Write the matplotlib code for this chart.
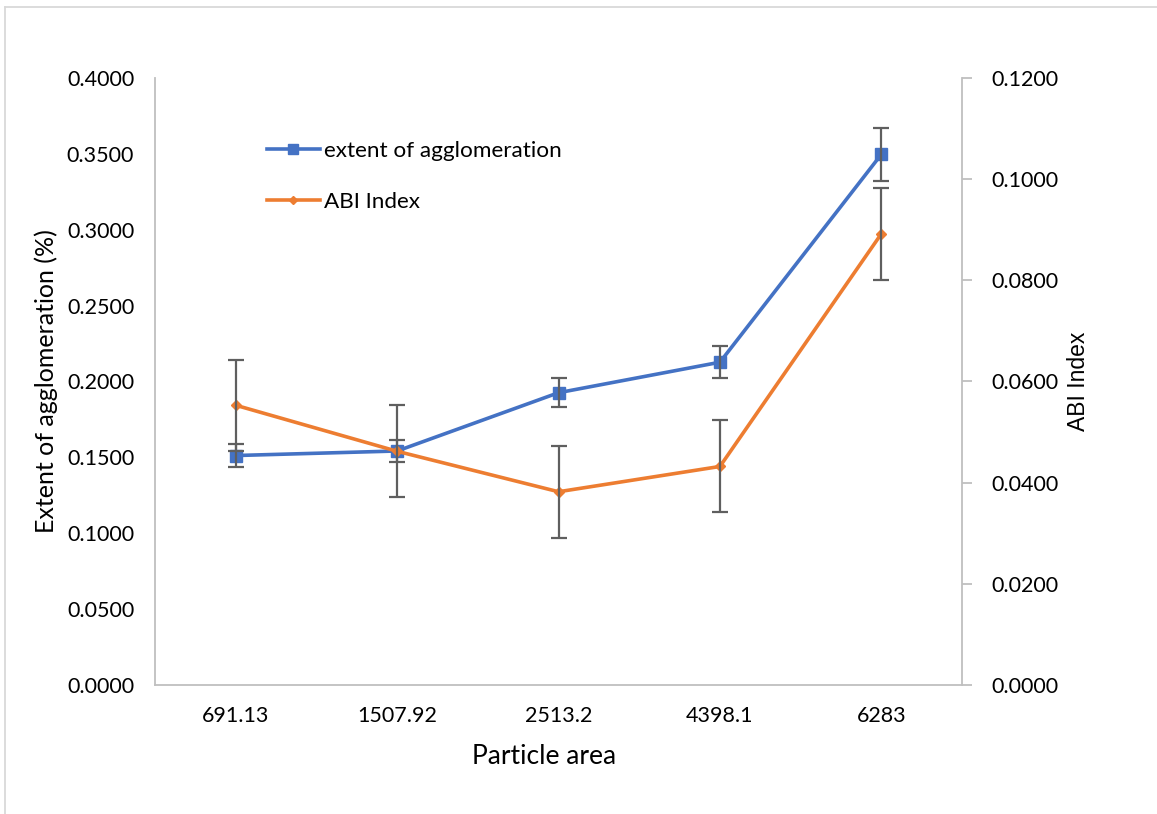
import matplotlib.pyplot as plt
from matplotlib.lines import Line2D

# Particle area categories and the two series
areas = ["691.13", "1507.92", "2513.2", "4398.1", "6283"]
extent = [0.1512, 0.1542, 0.1926, 0.2127, 0.3497]
extent_err = [0.0076, 0.0075, 0.0096, 0.0105, 0.0173]
abi = [0.0553, 0.0462, 0.0382, 0.0432, 0.0892]
abi_err = [0.0090, 0.0091, 0.0091, 0.0091, 0.0091]

left_ticks = [0.0, 0.05, 0.10, 0.15, 0.20, 0.25, 0.30, 0.35, 0.40]
right_ticks = [0.0, 0.02, 0.04, 0.06, 0.08, 0.10, 0.12]

plt.rcParams["font.family"] = ["Lato", "DejaVu Sans"]
blue = "#4472C4"
orange = "#ED7D31"
grey = "#BFBFBF"
err_col = "#5F5F5F"
fs = 15.5

fig = plt.figure(figsize=(11.57, 8.14), dpi=100)
ax = fig.add_axes([0.134, 0.1585, 0.6975, 0.7457])
ax2 = ax.twinx()

x = list(range(len(areas)))

ax.plot(x, extent, color=blue, lw=2.6, marker="s", ms=8, zorder=3)
ax.errorbar(x, extent, yerr=extent_err, fmt="none", ecolor=err_col,
            elinewidth=1.6, capsize=5.5, capthick=1.6, zorder=4)
ax2.plot(x, abi, color=orange, lw=2.6, marker="D", ms=5.5, zorder=3)
ax2.errorbar(x, abi, yerr=abi_err, fmt="none", ecolor=err_col,
             elinewidth=1.6, capsize=5.5, capthick=1.6, zorder=4)

ax.set_xlim(-0.5, len(areas) - 0.5)
ax.set_ylim(0, 0.4)
ax2.set_ylim(0, 0.12)
ax.set_xticks(x)
ax.set_xticklabels(areas, fontsize=fs)
ax.set_yticks(left_ticks)
ax.set_yticklabels([f"{v:.4f}" for v in left_ticks], fontsize=fs)
ax2.set_yticks(right_ticks)
ax2.set_yticklabels([f"{v:.4f}" for v in right_ticks], fontsize=fs)

for a in (ax, ax2):
    for s in a.spines.values():
        s.set_visible(False)
ax.spines["left"].set_visible(True)
ax.spines["bottom"].set_visible(True)
ax2.spines["right"].set_visible(True)
for s in (ax.spines["left"], ax.spines["bottom"], ax2.spines["right"]):
    s.set_color(grey)
    s.set_linewidth(1.3)

ax.tick_params(axis="x", length=0, pad=15)
ax.tick_params(axis="y", length=0, pad=15)
ax2.tick_params(axis="y", length=7, width=1.3, color=grey, pad=14)

ax.set_xlabel("Particle area", fontsize=19, labelpad=10)
ax.xaxis.set_label_coords(0.482, -0.098)
ax.set_ylabel("Extent of agglomeration (%)", fontsize=18, labelpad=6)
ax2.set_ylabel("ABI Index", fontsize=16.5, labelpad=6,
               family=["Liberation Sans", "DejaVu Sans"])

handles = [Line2D([], [], color=blue, lw=2.6, marker="s", ms=7),
           Line2D([], [], color=orange, lw=2.6, marker="D", ms=4.5)]
ax2.legend(handles, ["extent of agglomeration", "ABI Index"],
           loc="upper left", bbox_to_anchor=(0.223, 0.838),
           bbox_transform=fig.transFigure, frameon=False, fontsize=16.2,
           handlelength=2.35, handletextpad=0.2, labelspacing=1.38,
           borderaxespad=0)

# light chart-area border (only top/left edges fall inside the picture)
fig.add_artist(Line2D([5 / 1157, 1], [1 - 7 / 814] * 2,
                      transform=fig.transFigure, color="#D9D9D9", lw=1.3))
fig.add_artist(Line2D([5 / 1157] * 2, [0, 1 - 7 / 814],
                      transform=fig.transFigure, color="#D9D9D9", lw=1.3))

fig.savefig("out.png", dpi=100)
